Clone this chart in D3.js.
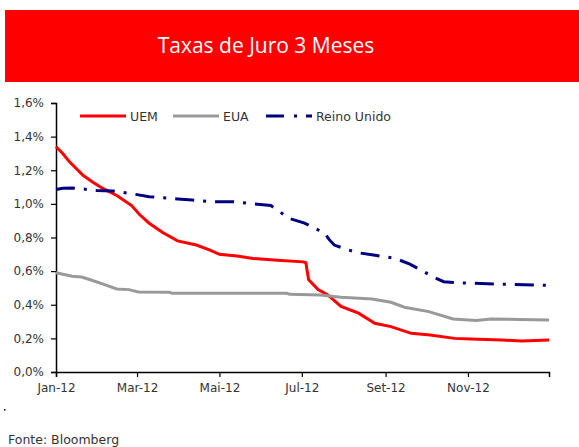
<!DOCTYPE html>
<html>
<head>
<meta charset="utf-8">
<script src="https://cdn.jsdelivr.net/npm/d3@7.9.0/dist/d3.min.js"></script>
<style>
  body { margin: 0; background: #fff; }
  svg { display: block; }
</style>
</head>
<body>
<svg id="chart" width="579" height="447"></svg>
<script>
// series values (percent)
const uemDates = ['2012-01-01','2012-01-06','2012-01-11','2012-01-21','2012-01-28','2012-02-04','2012-02-15','2012-02-26',
  '2012-03-03','2012-03-10','2012-03-20','2012-03-31','2012-04-14','2012-04-24','2012-05-01','2012-05-14','2012-05-26',
  '2012-06-13','2012-07-02','2012-07-04','2012-07-06','2012-07-13','2012-07-20','2012-07-30','2012-08-12','2012-08-24',
  '2012-09-05','2012-09-20','2012-10-04','2012-10-22','2012-11-03','2012-11-26','2012-12-11','2012-12-31'];
const uemValues = [1.34,1.30,1.25,1.17,1.13,1.095,1.05,0.99,
  0.935,0.885,0.83,0.78,0.755,0.725,0.70,0.69,0.675,
  0.665,0.655,0.65,0.55,0.49,0.46,0.39,0.35,0.29,
  0.27,0.23,0.22,0.20,0.196,0.19,0.184,0.19];

const euaDates = ['2012-01-01','2012-01-13','2012-01-20','2012-01-27','2012-02-07','2012-02-15','2012-02-24','2012-03-02',
  '2012-03-25','2012-03-27','2012-06-20','2012-06-22','2012-07-15','2012-07-30','2012-08-22','2012-09-05','2012-09-15',
  '2012-10-03','2012-10-21','2012-11-07','2012-11-18','2012-12-10','2012-12-31'];
const euaValues = [0.59,0.57,0.565,0.547,0.517,0.494,0.49,0.476,
  0.474,0.468,0.468,0.462,0.458,0.444,0.434,0.415,0.385,
  0.359,0.315,0.307,0.315,0.313,0.309];

const ukDates = ['2012-01-01','2012-01-06','2012-01-13','2012-01-31','2012-02-12','2012-03-01','2012-03-10','2012-03-31',
  '2012-04-11','2012-04-26','2012-05-11','2012-05-26','2012-06-08','2012-06-14','2012-06-21','2012-07-03','2012-07-10',
  '2012-07-18','2012-07-21','2012-07-25','2012-08-03','2012-08-11','2012-08-23','2012-09-08','2012-09-19','2012-09-27',
  '2012-10-06','2012-10-14','2012-10-23','2012-11-22','2012-12-22','2012-12-31'];
const ukValues = [1.085,1.093,1.095,1.08,1.077,1.055,1.043,1.029,
  1.023,1.013,1.013,1.0,0.99,0.958,0.915,0.886,0.858,
  0.825,0.79,0.755,0.73,0.71,0.696,0.676,0.642,0.607,
  0.567,0.537,0.531,0.523,0.517,0.515];

const seriesNames = ['UEM', 'EUA', 'Reino Unido'];
const yTicks = [0, 0.2, 0.4, 0.6, 0.8, 1.0, 1.2, 1.4, 1.6];
const xTickDates = ['2012-01-01','2012-03-01','2012-05-01','2012-07-01','2012-09-01','2012-11-01'];
const xTickLabels = ['Jan-12','Mar-12','Mai-12','Jul-12','Set-12','Nov-12'];

const parse = d3.timeParse('%Y-%m-%d');
const zip = (ds, vs) => ds.map((d, i) => ({ date: parse(d), value: vs[i] }));

const series = [
  { name: seriesNames[0], color: '#ff0000', dash: null, points: zip(uemDates, uemValues) },
  { name: seriesNames[1], color: '#999999', dash: null, points: zip(euaDates, euaValues) },
  { name: seriesNames[2], color: '#000080', dash: '19,9,3,9', points: zip(ukDates, ukValues) },
];

const svg = d3.select('#chart');
const font = '"DejaVu Sans", sans-serif';

// title band
svg.append('rect').attr('x', 5).attr('y', 10).attr('width', 574).attr('height', 72).attr('fill', '#ff0000');
svg.append('text').attr('x', 266).attr('y', 53).attr('text-anchor', 'middle')
  .attr('fill', '#fff').attr('font-family', '"Open Sans", sans-serif').attr('font-size', 21)
  .text('Taxas de Juro 3 Meses');

const x = d3.scaleTime().domain([parse('2012-01-01'), parse('2012-12-31')]).range([56, 549]);
const y = d3.scaleLinear().domain([0, 1.6]).range([372, 103]);

const fmtPct = d => d.toFixed(1).replace('.', ',') + '%';

const yAxis = svg.append('g').attr('transform', 'translate(56,0)')
  .call(d3.axisLeft(y).tickValues(yTicks).tickFormat(fmtPct).tickSize(5).tickPadding(7));
const xAxis = svg.append('g').attr('transform', 'translate(0,372)')
  .call(d3.axisBottom(x).tickValues(xTickDates.map(parse))
    .tickFormat((d, i) => xTickLabels[i]).tickSize(5).tickPadding(6));

[yAxis, xAxis].forEach(g => {
  g.select('.domain').attr('stroke', '#000').attr('stroke-width', 1.5);
  g.selectAll('.tick line').attr('stroke', '#000').attr('stroke-width', 1.2);
  g.selectAll('.tick text').attr('fill', '#333').attr('font-family', font).attr('font-size', 12);
});

const line = d3.line().x(d => x(d.date)).y(d => y(d.value));

series.forEach(s => {
  svg.append('path').datum(s.points)
    .attr('d', line)
    .attr('fill', 'none')
    .attr('stroke', s.color)
    .attr('stroke-width', 3)
    .attr('stroke-dasharray', s.dash);
});

// legend
const legendX = [80, 173, 266];
series.forEach((s, i) => {
  const g = svg.append('g').attr('transform', `translate(${legendX[i]},116)`);
  g.append('line').attr('x1', 0).attr('x2', 46).attr('y1', 0).attr('y2', 0)
    .attr('stroke', s.color).attr('stroke-width', 3).attr('stroke-dasharray', s.dash ? '18,10,3,9' : null);
  g.append('text').attr('x', 50).attr('y', 4.5).attr('fill', '#333')
    .attr('font-family', font).attr('font-size', 12.5).text(s.name);
});

svg.append('rect').attr('x', 4).attr('y', 409).attr('width', 1.5).attr('height', 1.5).attr('fill', '#000');
svg.append('text').attr('x', 8).attr('y', 444).attr('fill', '#333')
  .attr('font-family', font).attr('font-size', 12.5).text('Fonte: Bloomberg');
</script>
</body>
</html>
